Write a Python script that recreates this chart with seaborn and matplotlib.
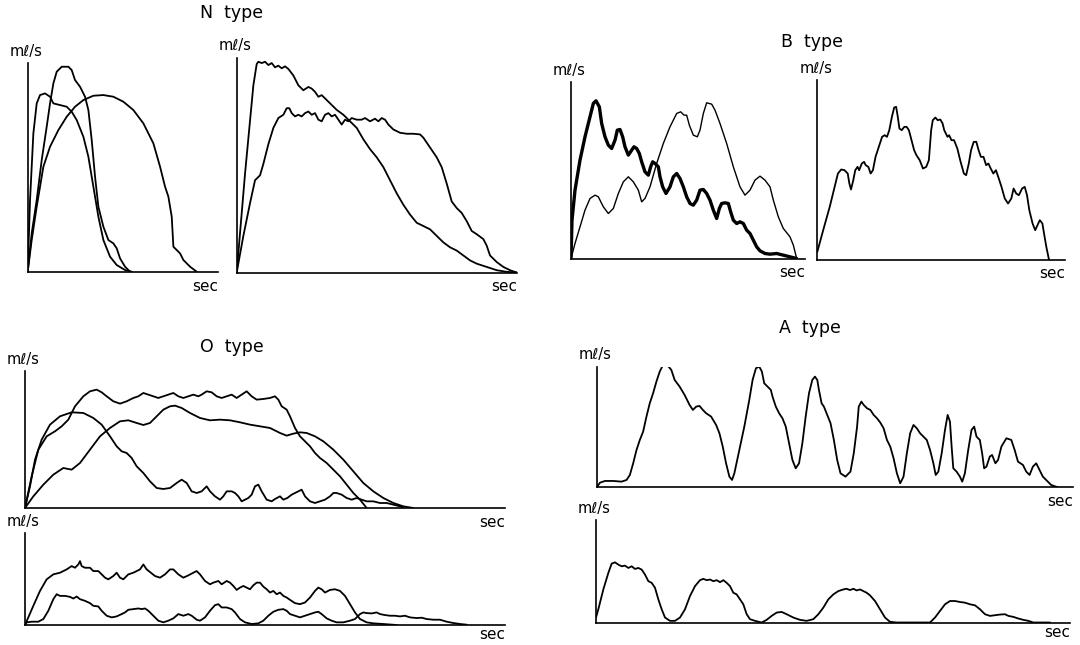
import numpy as np
import matplotlib
matplotlib.use("Agg")
from matplotlib import pyplot as plt
import seaborn as sns

sns.set_style("white")
plt.rcParams["font.family"] = ["DejaVu Sans"]
plt.rcParams["text.color"] = "black"

# flow curves (time units, flow units; each panel has its own scale)
n_left_a = [(0,0),(7,215),(17,415),(27,505),(37,530),(52,535),(67,525),(77,505),(97,500),(117,495),
            (132,480),(147,455),(167,405),(182,345),(197,255),(212,165),(227,95),(247,45),(267,20),(292,5),(312,0)]
n_left_b = [(0,0),(12,115),(27,215),(42,335),(57,435),(67,505),(77,565),(87,600),(102,615),(122,615),
            (132,605),(142,575),(157,555),(172,525),(182,485),(192,395),(202,285),(212,195),(227,135),
            (242,95),(257,85),(267,70),(277,40),(292,15),(307,0)]
n_left_c = [(0,0),(12,95),(27,195),(47,315),(67,375),(92,425),(117,465),(142,495),(167,515),(197,528),
            (227,530),(257,525),(287,510),(317,485),(347,445),(377,385),(397,315),(412,255),(422,225),
            (432,165),(437,75),(447,65),(457,55),(467,35),(487,15),(507,0)]

n_right_a = [(0,0),(25,302),(50,572),(60,637),(65,644),(75,640),(85,644),(95,634),(105,640),(115,627),
             (125,632),(135,624),(145,630),(155,622),(170,602),(185,572),(200,557),(215,567),(225,562),
             (235,552),(245,537),(255,542),(270,527),(285,512),(300,497),(320,482),(340,462),(360,442),
             (380,407),(400,377),(420,352),(440,322),(460,282),(480,242),(500,207),(520,177),(540,152),
             (560,142),(580,132),(600,112),(620,92),(640,77),(660,67),(680,52),(700,37),(720,27),
             (750,17),(780,7),(810,2),(840,0)]
n_right_b = [(0,0),(20,112),(40,212),(55,282),(70,297),(80,332),(95,392),(110,442),(125,472),(140,482),
             (150,502),(158,502),(165,487),(175,477),(185,482),(195,477),(205,487),(215,492),(225,482),
             (235,487),(245,467),(255,462),(265,482),(275,487),(285,477),(295,482),(305,467),(315,452),
             (325,467),(335,462),(345,472),(360,467),(375,467),(385,472),(400,462),(415,470),(425,462),
             (435,472),(445,467),(455,452),(470,437),(490,427),(510,424),(530,424),(550,422),(560,412),
             (580,382),(600,352),(615,322),(630,272),(645,217),(660,197),(675,182),(690,157),(705,127),
             (720,117),(740,102),(750,82),(760,52),(780,32),(800,17),(820,7),(840,0)]

b_left_thick = [(0,0),(3,115),(12,205),(27,295),(42,365),(57,425),(67,465),(75,473),(85,455),(92,405),
                (102,365),(112,340),(122,330),(132,355),(139,385),(147,387),(155,365),(162,335),(172,310),
                (182,325),(189,335),(197,330),(205,315),(212,290),(222,260),(232,250),(239,275),(245,290),
                (252,285),(262,275),(267,245),(275,215),(285,195),(297,215),(307,245),(317,255),(327,240),
                (337,215),(347,185),(357,165),(367,160),(377,175),(387,205),(397,207),(407,195),(417,175),
                (427,145),(437,120),(445,150),(452,165),(462,167),(472,165),(479,140),(487,115),(497,105),
                (507,110),(517,105),(527,85),(537,75),(547,55),(557,35),(567,23),(582,15),(597,13),
                (617,15),(637,10),(657,5),(677,0)]
b_left_thin = [(0,0),(12,45),(27,95),(42,145),(57,180),(72,190),(82,185),(97,155),(112,135),(127,150),
               (142,195),(157,230),(172,245),(187,230),(202,205),(212,170),(222,180),(237,215),(257,285),
               (277,345),(297,395),(317,435),(329,440),(339,430),(347,430),(355,400),(367,370),(379,365),
               (387,385),(397,435),(407,467),(422,463),(432,445),(447,405),(467,345),(487,275),(507,215),
               (522,190),(537,205),(552,235),(567,247),(582,235),(597,215),(607,175),(622,125),(637,90),
               (657,65),(667,40),(677,0)]

b_right = [(0,23),(18,88),(38,158),(53,218),(63,258),(73,270),(83,268),(93,258),(98,228),(103,210),
           (110,238),(116,268),(123,278),(128,268),(136,288),(143,293),(148,283),(156,278),(163,258),
           (170,268),(178,308),(188,338),(198,368),(206,373),(213,368),(220,388),(228,428),(235,456),
           (241,458),(246,428),(251,393),(258,388),(266,398),(273,398),(280,388),(288,358),(296,328),
           (303,313),(313,298),(323,273),(333,278),(341,298),(348,388),(353,418),(361,426),(368,418),
           (376,420),(383,408),(388,388),(398,368),(403,373),(410,358),(418,358),(428,333),(438,293),
           (448,258),(455,253),(463,288),(470,328),(478,353),(486,353),(493,328),(500,308),(508,308),
           (516,283),(523,288),(530,273),(538,258),(546,268),(553,248),(563,218),(573,183),(583,168),
           (593,183),(600,213),(608,198),(616,193),(626,213),(634,218),(641,193),(648,148),(658,108),
           (666,88),(673,103),(680,118),(688,108),(693,78),(700,38),(708,0)]

o_top_a = [(0,0),(15,65),(30,145),(50,205),(75,250),(105,275),(140,287),(175,285),(205,270),(230,250),
           (255,215),(275,185),(290,170),(305,165),(320,150),(335,125),(355,105),(375,80),(395,60),
           (415,57),(435,60),(455,75),(470,85),(485,75),(500,50),(515,45),(530,50),(545,65),(555,50),
           (570,35),(585,25),(595,35),(605,50),(620,50),(630,45),(640,35),(650,20),(660,25),(670,30),
           (680,40),(690,65),(700,70),(710,50),(725,25),(740,20),(750,27),(765,35),(775,25),(787,30),
           (800,40),(810,45),(820,50),(830,55),(840,35),(855,20),(870,15),(885,20),(900,25),(915,35),
           (925,45),(935,45),(950,40),(965,30),(980,25),(995,30),(1010,25),(1025,20),(1045,20),
           (1065,15),(1085,15),(1105,10),(1125,5),(1135,0)]
o_top_b = [(0,0),(20,95),(40,175),(65,215),(90,230),(110,245),(130,265),(150,305),(175,335),(195,350),
           (215,355),(230,347),(245,335),(265,320),(285,313),(305,320),(325,330),(340,335),(355,345),
           (370,340),(385,335),(400,330),(415,335),(430,340),(445,345),(460,335),(475,330),(490,335),
           (505,340),(520,335),(530,340),(545,350),(560,347),(575,335),(590,330),(605,335),(620,340),
           (635,330),(650,340),(665,350),(680,335),(695,325),(715,327),(735,330),(750,335),(760,325),
           (770,305),(785,295),(795,275),(810,240),(825,215),(840,200),(855,185),(870,165),(885,150),
           (905,135),(925,115),(945,95),(965,70),(985,45),(1005,25),(1025,0)]
o_top_c = [(0,0),(25,35),(55,70),(85,100),(115,120),(140,115),(165,135),(195,175),(225,215),(255,240),
           (285,260),(310,263),(335,255),(355,249),(375,255),(395,275),(415,295),(435,305),(450,307),
           (470,300),(495,285),(525,270),(555,263),(585,265),(615,263),(645,257),(675,250),(705,245),
           (735,240),(765,225),(785,217),(805,223),(825,227),(845,225),(870,215),(895,200),(925,175),
           (955,145),(985,110),(1015,75),(1045,50),(1075,30),(1105,15),(1135,5),(1165,0)]

o_bot_a = [(0,0),(25,58),(45,103),(65,138),(85,153),(105,158),(125,168),(140,178),(150,173),(160,183),
           (165,193),(170,178),(180,173),(195,173),(205,163),(220,163),(230,153),(240,143),(250,138),
           (265,148),(275,158),(285,143),(295,138),(310,153),(325,158),(335,163),(345,168),(355,183),
           (365,168),(375,160),(390,148),(405,143),(420,153),(435,168),(445,168),(460,153),(475,143),
           (490,150),(505,158),(515,163),(525,153),(540,133),(555,123),(565,128),(580,133),(590,123),
           (605,133),(615,128),(625,118),(635,106),(645,113),(655,118),(665,113),(675,108),(685,120),
           (695,128),(705,128),(715,116),(725,108),(735,98),(745,103),(755,93),(765,98),(775,88),
           (785,83),(795,76),(810,66),(825,63),(840,68),(855,83),(870,103),(880,113),(890,108),
           (900,98),(915,106),(930,108),(945,103),(960,88),(975,63),(990,38),(1005,18),(1025,8),
           (1045,5),(1075,3),(1115,0)]
o_bot_b = [(0,0),(5,8),(20,10),(40,10),(55,18),(70,43),(85,78),(95,93),(105,88),(120,88),(135,85),
           (145,80),(155,86),(165,78),(180,73),(195,66),(205,58),(220,56),(230,43),(245,28),(260,23),
           (275,26),(290,33),(300,38),(310,46),(325,48),(340,50),(350,48),(360,50),(370,43),(385,28),
           (400,13),(415,8),(430,13),(445,20),(460,33),(475,28),(490,33),(500,28),(515,16),(525,13),
           (540,23),(555,43),(570,60),(580,63),(590,53),(605,53),(620,48),(630,38),(645,18),(660,8),
           (680,3),(700,5),(715,13),(730,28),(745,40),(760,46),(775,48),(785,43),(795,33),(810,28),
           (825,23),(840,28),(855,33),(870,38),(880,40),(890,33),(905,20),(920,13),(935,8),(955,8),
           (975,13),(990,18),(1005,33),(1015,38),(1025,36),(1040,35),(1055,38),(1065,33),(1080,30),
           (1095,28),(1110,28),(1125,26),(1140,28),(1155,23),(1175,21),(1190,22),(1205,18),(1225,16),
           (1245,16),(1265,10),(1285,6),(1305,3),(1325,1)]

a_top = [(0,0),(10,14),(25,19),(50,19),(75,17),(90,22),(100,37),(110,72),(120,112),(130,142),(140,167),
         (150,212),(160,252),(170,282),(180,317),(190,347),(200,367),(208,370),(215,364),(225,352),
         (235,322),(250,302),(265,277),(280,247),(290,232),(300,242),(310,244),(320,232),(330,222),
         (345,212),(360,187),(370,162),(380,122),(390,72),(400,32),(408,22),(415,42),(430,112),(445,182),
         (460,262),(470,322),(480,357),(490,362),(498,347),(505,312),(515,302),(525,292),(530,272),
         (540,242),(550,222),(560,207),(570,182),(580,132),(590,82),(600,57),(610,72),(620,132),
         (630,212),(640,282),(650,322),(658,332),(665,322),(670,292),(678,252),(685,242),(695,217),
         (705,192),(715,142),(725,82),(735,42),(750,32),(765,47),(775,102),(785,182),(790,242),
         (798,257),(805,247),(815,237),(825,232),(835,217),(845,207),(855,194),(865,177),(875,142),
         (885,122),(895,87),(905,42),(915,12),(925,32),(935,102),(945,162),(955,187),(965,177),
         (975,162),(985,152),(995,142),(1005,112),(1015,72),(1022,37),(1030,47),(1040,102),(1050,172),
         (1058,217),(1065,197),(1070,122),(1075,57),(1085,47),(1095,32),(1102,17),(1110,42),(1120,112),
         (1130,172),(1138,182),(1145,152),(1155,142),(1162,102),(1168,57),(1175,62),(1185,92),
         (1192,97),(1202,72),(1210,82),(1220,122),(1235,147),(1250,142),(1260,112),(1270,77),(1285,67),
         (1295,47),(1305,37),(1315,62),(1325,72),(1335,52),(1345,32),(1355,22),(1370,7),(1390,0)]

a_bot = [(0,15),(7,40),(22,100),(37,150),(47,178),(57,182),(67,175),(77,170),(87,172),(97,165),
         (107,170),(117,162),(127,165),(137,160),(147,145),(157,125),(167,120),(177,105),(187,70),
         (197,40),(207,15),(222,5),(237,5),(252,15),(267,40),(282,80),(297,110),(312,128),(322,132),
         (332,128),(342,130),(352,125),(362,128),(372,122),(382,128),(392,120),(402,110),(412,90),
         (422,85),(432,70),(442,55),(452,25),(462,10),(477,5),(497,0),(512,8),(527,20),(542,30),
         (557,32),(572,25),(592,15),(612,8),(632,5),(652,10),(667,25),(682,45),(697,70),(712,85),
         (727,95),(742,100),(752,102),(762,98),(772,102),(782,97),(792,100),(802,95),(812,90),(822,82),
         (837,65),(852,40),(867,15),(882,2),(902,0),(952,0),(1002,0),(1017,15),(1032,35),(1047,55),
         (1062,65),(1077,65),(1092,62),(1107,60),(1122,55),(1137,52),(1152,40),(1167,25),(1182,20),
         (1197,22),(1212,24),(1227,25),(1237,20),(1252,17),(1267,12),(1282,8),(1297,5),(1312,0),(1362,0)]

W, H = 1080, 645
fig = plt.figure(figsize=(W / 100, H / 100), dpi=100)


def panel(x0, base, w, h, tmax, fmax, curves, sec_dy=-5):
    ax = fig.add_axes([x0 / W, (H - base) / H, w / W, h / H])
    for c, lw in curves:
        t, f = np.array(c).T
        sns.lineplot(x=t, y=f, sort=False, estimator=None, color="black", linewidth=lw, ax=ax)
    ax.set_xlim(0, tmax)
    ax.set_ylim(0, fmax)
    ax.set_xticks([])
    ax.set_yticks([])
    ax.set_xlabel("")
    ax.set_ylabel("")
    for s in ["top", "right"]:
        ax.spines[s].set_visible(False)
    for s in ["left", "bottom"]:
        ax.spines[s].set_color("black")
        ax.spines[s].set_linewidth(1.2)
    ax.patch.set_alpha(0)
    ax.annotate("mℓ/s", xy=(0, 1), xycoords="axes fraction", xytext=(-13, 3),
                textcoords="offset points", ha="left", va="bottom", fontsize=10.5)
    ax.annotate("sec", xy=(1, 0), xycoords="axes fraction", xytext=(0, sec_dy),
                textcoords="offset points", ha="right", va="top", fontsize=11)
    return ax


lw = 1.3
panel(27.7, 271.7, 190.7, 208.3, 572, 625, [(n_left_a, lw), (n_left_b, lw), (n_left_c, lw)])
panel(236.7, 272.5, 280, 215, 840, 657, [(n_right_a, lw), (n_right_b, lw)])
panel(571, 258.5, 234, 176.7, 702, 530, [(b_left_thin, 1.0), (b_left_thick, 2.4)])
panel(817.3, 259.5, 248, 179.3, 758, 538, [(b_right, lw)])
panel(25, 508, 480, 136.7, 1440, 410, [(o_top_a, lw), (o_top_b, lw), (o_top_c, lw)])
panel(25, 625, 480, 92, 1440, 278, [(o_bot_a, lw), (o_bot_b, lw)], sec_dy=-1.5)
panel(596.7, 487.3, 476, 120.7, 1435, 362, [(a_top, lw)])
panel(596, 622.5, 474, 102.5, 1422, 310, [(a_bot, lw)], sec_dy=-2)

for txt, x, y in [("N  type", 232, 13), ("B  type", 812, 42), ("O  type", 232, 347), ("A  type", 810, 328)]:
    fig.text(x / W, 1 - y / H, txt, ha="center", va="center", fontsize=12.5)

fig.savefig("out.png", dpi=100, facecolor="white")
